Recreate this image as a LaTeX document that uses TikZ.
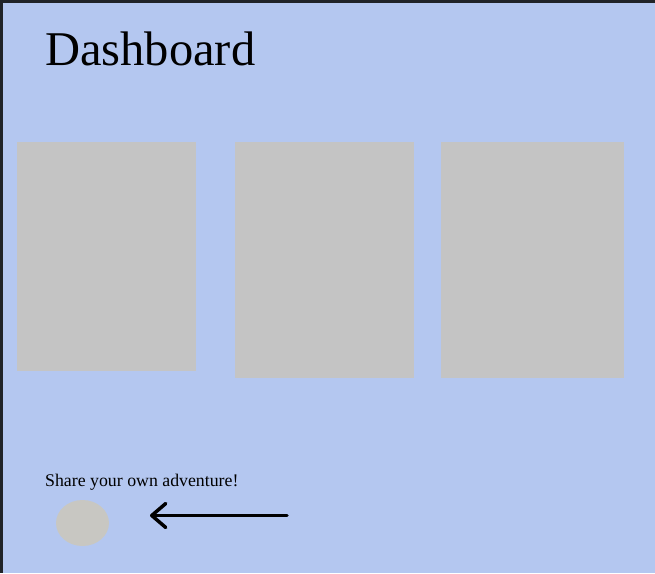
\documentclass[tikz,border=0pt]{standalone}
\usepackage{fontspec}
\setmainfont{Liberation Serif}
\usetikzlibrary{arrows.meta,shapes.geometric}
\definecolor{bgblue}{RGB}{180,199,240}
\definecolor{cardgray}{RGB}{196,196,196}
\definecolor{btngray}{RGB}{200,199,194}
\definecolor{frame}{RGB}{32,35,40}
\tikzset{
  card/.style={fill=cardgray, draw=none, inner sep=0pt, outer sep=0pt},
  btn/.style={ellipse, fill=btngray, draw=none, inner sep=0pt, minimum width=53pt, minimum height=46pt},
  arr/.style={line width=3.5pt, line cap=round, -{Straight Barb[length=14pt,width=24pt,line cap=round,line join=round]}},
}
\begin{document}
\begin{tikzpicture}[x=1pt,y=-1pt]
\useasboundingbox (0,0) rectangle (655,573);
\fill[bgblue] (0,0) rectangle (655,573);
\fill[frame] (0,0) rectangle (655,3);
\fill[frame] (0,0) rectangle (3,573);
\node[anchor=base west, inner sep=0pt, font=\fontsize{48.5}{52}\selectfont] (title) at (45,65) {Dashboard};
\node[card, anchor=north west, minimum width=179pt, minimum height=229pt] (card1) at (17,142) {};
\node[card, anchor=north west, minimum width=179pt, minimum height=236pt] (card2) at (235,142) {};
\node[card, anchor=north west, minimum width=183pt, minimum height=236pt] (card3) at (441,142) {};
\node[anchor=base west, inner sep=0pt, font=\fontsize{17.8}{20}\selectfont] (share) at (45,486) {Share your own adventure!};
\node[btn] (button) at (82.5,523) {};
\coordinate (astart) at (287,515.5);
\coordinate (aend) at (150,515.5);
\draw[arr] (astart) -- (aend);
\end{tikzpicture}
\end{document}
